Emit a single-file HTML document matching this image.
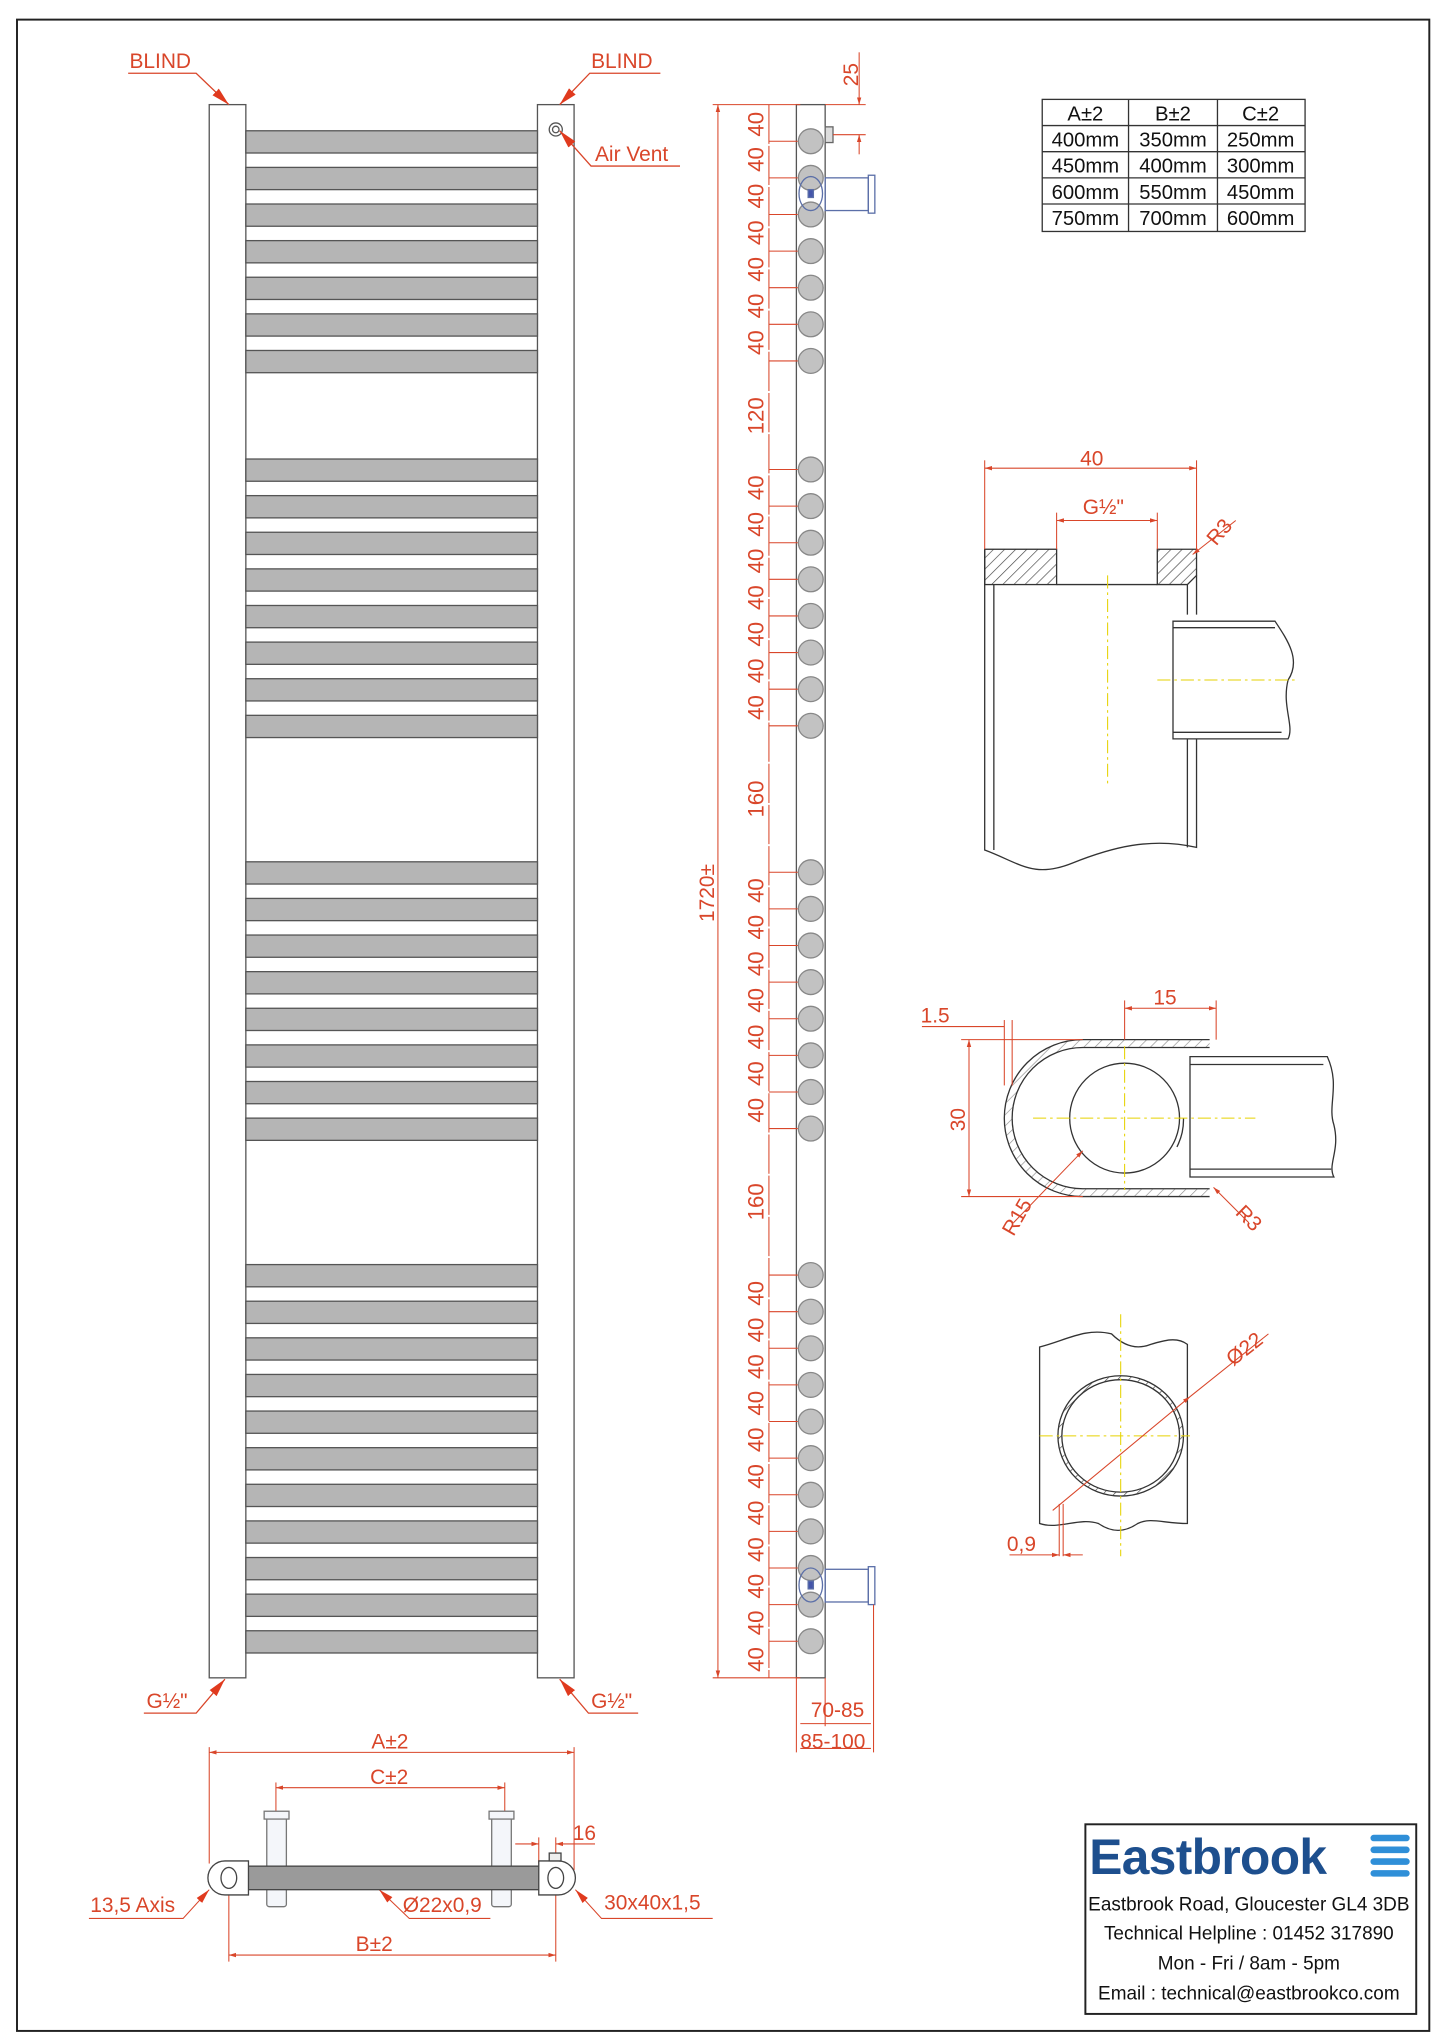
<!DOCTYPE html>
<html><head><meta charset="utf-8"><style>html,body{margin:0;padding:0;background:#fff}svg{display:block}</style></head><body>
<svg width="1445" height="2044" viewBox="0 0 1105 1563" preserveAspectRatio="none" xmlns="http://www.w3.org/2000/svg" font-family="Liberation Sans, sans-serif">
<rect width="1105" height="1563" fill="#fff"/>
<rect x="13" y="15" width="1080" height="1538" fill="none" stroke="#222" stroke-width="1.5"/>
<defs>
<marker id="a" viewBox="0 0 10 10" refX="10" refY="5" markerWidth="7" markerHeight="7" orient="auto-start-reverse"><path d="M0,2L10,5L0,8z" fill="#d9462a"/></marker>
<marker id="b" viewBox="0 0 10 10" refX="10" refY="5" markerWidth="14" markerHeight="14" orient="auto"><path d="M0,2.5L10,5L0,7.5z" fill="#e03a1e"/></marker>
<pattern id="h" width="6" height="6" patternUnits="userSpaceOnUse" patternTransform="rotate(45)"><line x1="0" y1="0" x2="0" y2="6" stroke="#444" stroke-width="1"/></pattern>
</defs>

<!-- Front view -->
<g stroke="#555" stroke-width="1" fill="#fff">
<rect x="160" y="80" width="28" height="1203"/>
<rect x="411" y="80" width="28" height="1203"/>
</g>
<g fill="#b5b5b5" stroke="#555" stroke-width="1">
<rect x="188" y="100" width="223" height="17"/><rect x="188" y="128" width="223" height="17"/><rect x="188" y="156" width="223" height="17"/><rect x="188" y="184" width="223" height="17"/><rect x="188" y="212" width="223" height="17"/><rect x="188" y="240" width="223" height="17"/><rect x="188" y="268" width="223" height="17"/>
<rect x="188" y="351" width="223" height="17"/><rect x="188" y="379" width="223" height="17"/><rect x="188" y="407" width="223" height="17"/><rect x="188" y="435" width="223" height="17"/><rect x="188" y="463" width="223" height="17"/><rect x="188" y="491" width="223" height="17"/><rect x="188" y="519" width="223" height="17"/><rect x="188" y="547" width="223" height="17"/>
<rect x="188" y="659" width="223" height="17"/><rect x="188" y="687" width="223" height="17"/><rect x="188" y="715" width="223" height="17"/><rect x="188" y="743" width="223" height="17"/><rect x="188" y="771" width="223" height="17"/><rect x="188" y="799" width="223" height="17"/><rect x="188" y="827" width="223" height="17"/><rect x="188" y="855" width="223" height="17"/>
<rect x="188" y="967" width="223" height="17"/><rect x="188" y="995" width="223" height="17"/><rect x="188" y="1023" width="223" height="17"/><rect x="188" y="1051" width="223" height="17"/><rect x="188" y="1079" width="223" height="17"/><rect x="188" y="1107" width="223" height="17"/><rect x="188" y="1135" width="223" height="17"/><rect x="188" y="1163" width="223" height="17"/><rect x="188" y="1191" width="223" height="17"/><rect x="188" y="1219" width="223" height="17"/><rect x="188" y="1247" width="223" height="17"/>
</g>
<circle cx="425" cy="99" r="5" fill="none" stroke="#555"/><circle cx="425" cy="99" r="2.5" fill="none" stroke="#555"/>

<!-- labels front -->
<g fill="#d9462a" font-size="16">
<text x="99" y="52">BLIND</text><text x="452" y="52">BLIND</text>
<text x="455" y="123">Air Vent</text>
<text x="112" y="1306">G½"</text><text x="452" y="1306">G½"</text>
</g>
<g stroke="#d9462a" stroke-width="1" fill="none">
<polyline points="98,56 150,56 175,80" marker-end="url(#b)"/>
<polyline points="505,56 451,56 428,80" marker-end="url(#b)"/>
<polyline points="520,127 452,127 428,100" marker-end="url(#b)"/>
<polyline points="110,1310 150,1310 172,1284" marker-end="url(#b)"/>
<polyline points="488,1310 450,1310 428,1284" marker-end="url(#b)"/>
</g>

<!-- Side view -->
<rect x="609" y="80" width="22" height="1203" fill="#fff" stroke="#555"/>
<g fill="#c2c2c2" stroke="#888">
<circle cx="620" cy="108" r="9.5"/><circle cx="620" cy="136" r="9.5"/><circle cx="620" cy="164" r="9.5"/><circle cx="620" cy="192" r="9.5"/><circle cx="620" cy="220" r="9.5"/><circle cx="620" cy="248" r="9.5"/><circle cx="620" cy="276" r="9.5"/>
<circle cx="620" cy="359" r="9.5"/><circle cx="620" cy="387" r="9.5"/><circle cx="620" cy="415" r="9.5"/><circle cx="620" cy="443" r="9.5"/><circle cx="620" cy="471" r="9.5"/><circle cx="620" cy="499" r="9.5"/><circle cx="620" cy="527" r="9.5"/><circle cx="620" cy="555" r="9.5"/>
<circle cx="620" cy="667" r="9.5"/><circle cx="620" cy="695" r="9.5"/><circle cx="620" cy="723" r="9.5"/><circle cx="620" cy="751" r="9.5"/><circle cx="620" cy="779" r="9.5"/><circle cx="620" cy="807" r="9.5"/><circle cx="620" cy="835" r="9.5"/><circle cx="620" cy="863" r="9.5"/>
<circle cx="620" cy="975" r="9.5"/><circle cx="620" cy="1003" r="9.5"/><circle cx="620" cy="1031" r="9.5"/><circle cx="620" cy="1059" r="9.5"/><circle cx="620" cy="1087" r="9.5"/><circle cx="620" cy="1115" r="9.5"/><circle cx="620" cy="1143" r="9.5"/><circle cx="620" cy="1171" r="9.5"/><circle cx="620" cy="1199" r="9.5"/><circle cx="620" cy="1227" r="9.5"/><circle cx="620" cy="1255" r="9.5"/>
</g>
<g fill="none" stroke="#5b6fa8" stroke-width="1">
<rect x="631" y="136" width="33" height="25"/><rect x="664" y="134" width="5" height="29"/><ellipse cx="620" cy="148" rx="9" ry="13"/><rect x="618" y="145" width="4" height="6" fill="#4455aa"/>
<rect x="631" y="1200" width="33" height="25"/><rect x="664" y="1198" width="5" height="29"/><ellipse cx="620" cy="1212" rx="9" ry="13"/><rect x="618" y="1209" width="4" height="6" fill="#4455aa"/>
</g>
<rect x="631" y="97" width="6" height="12" fill="#ddd" stroke="#666"/>

<!-- Side dims -->
<g stroke="#d9462a" stroke-width="0.8" fill="none">
<line x1="549" y1="80" x2="549" y2="1283" marker-start="url(#a)" marker-end="url(#a)"/>
<line x1="545" y1="80" x2="612" y2="80"/><line x1="545" y1="1283" x2="612" y2="1283"/>
<line x1="588" y1="80" x2="588" y2="1283" stroke-dasharray="30 1.5"/>
<path d="M588 108H610M588 136H610M588 164H610M588 192H610M588 220H610M588 248H610M588 276H610M588 359H610M588 387H610M588 415H610M588 443H610M588 471H610M588 499H610M588 527H610M588 555H610M588 667H610M588 695H610M588 723H610M588 751H610M588 779H610M588 807H610M588 835H610M588 863H610M588 975H610M588 1003H610M588 1031H610M588 1059H610M588 1087H610M588 1115H610M588 1143H610M588 1171H610M588 1199H610M588 1227H610M588 1255H610"/>
<line x1="631" y1="80" x2="662" y2="80"/><line x1="637" y1="103" x2="662" y2="103"/>
<line x1="657" y1="40" x2="657" y2="80" marker-end="url(#a)"/><line x1="657" y1="118" x2="657" y2="103" marker-end="url(#a)"/>
<line x1="609" y1="1283" x2="609" y2="1340"/><line x1="668" y1="1227" x2="668" y2="1340"/><line x1="631" y1="1283" x2="631" y2="1320"/>
<line x1="612" y1="1318" x2="666" y2="1318"/><line x1="612" y1="1337" x2="666" y2="1337"/>
</g>
<g fill="#d9462a" font-size="16">
<text transform="translate(546,705) rotate(-90)">1720±</text>
<text transform="translate(656,66) rotate(-90)">25</text>
<text x="620" y="1313">70-85</text><text x="612" y="1337">85-100</text>
</g>
<g fill="#d9462a" font-size="17" text-anchor="middle">
<text transform="translate(584,95) rotate(-90)">40</text><text transform="translate(584,122) rotate(-90)">40</text><text transform="translate(584,150) rotate(-90)">40</text><text transform="translate(584,178) rotate(-90)">40</text><text transform="translate(584,206) rotate(-90)">40</text><text transform="translate(584,234) rotate(-90)">40</text><text transform="translate(584,262) rotate(-90)">40</text>
<text transform="translate(584,318) rotate(-90)">120</text>
<text transform="translate(584,373) rotate(-90)">40</text><text transform="translate(584,401) rotate(-90)">40</text><text transform="translate(584,429) rotate(-90)">40</text><text transform="translate(584,457) rotate(-90)">40</text><text transform="translate(584,485) rotate(-90)">40</text><text transform="translate(584,513) rotate(-90)">40</text><text transform="translate(584,541) rotate(-90)">40</text>
<text transform="translate(584,611) rotate(-90)">160</text>
<text transform="translate(584,681) rotate(-90)">40</text><text transform="translate(584,709) rotate(-90)">40</text><text transform="translate(584,737) rotate(-90)">40</text><text transform="translate(584,765) rotate(-90)">40</text><text transform="translate(584,793) rotate(-90)">40</text><text transform="translate(584,821) rotate(-90)">40</text><text transform="translate(584,849) rotate(-90)">40</text>
<text transform="translate(584,919) rotate(-90)">160</text>
<text transform="translate(584,989) rotate(-90)">40</text><text transform="translate(584,1017) rotate(-90)">40</text><text transform="translate(584,1045) rotate(-90)">40</text><text transform="translate(584,1073) rotate(-90)">40</text><text transform="translate(584,1101) rotate(-90)">40</text><text transform="translate(584,1129) rotate(-90)">40</text><text transform="translate(584,1157) rotate(-90)">40</text><text transform="translate(584,1185) rotate(-90)">40</text><text transform="translate(584,1213) rotate(-90)">40</text><text transform="translate(584,1241) rotate(-90)">40</text><text transform="translate(584,1269) rotate(-90)">40</text>
</g>

<!-- Table -->
<g stroke="#333" stroke-width="1" fill="none">
<rect x="797" y="76" width="201" height="101"/>
<line x1="863" y1="76" x2="863" y2="177"/><line x1="931" y1="76" x2="931" y2="177"/>
<line x1="797" y1="96" x2="998" y2="96"/><line x1="797" y1="116" x2="998" y2="116"/><line x1="797" y1="136" x2="998" y2="136"/><line x1="797" y1="156" x2="998" y2="156"/>
</g>
<g font-size="15.5" fill="#111" text-anchor="middle">
<text x="830" y="92">A±2</text><text x="897" y="92">B±2</text><text x="964" y="92">C±2</text>
<text x="830" y="112">400mm</text><text x="897" y="112">350mm</text><text x="964" y="112">250mm</text>
<text x="830" y="132">450mm</text><text x="897" y="132">400mm</text><text x="964" y="132">300mm</text>
<text x="830" y="152">600mm</text><text x="897" y="152">550mm</text><text x="964" y="152">450mm</text>
<text x="830" y="172">750mm</text><text x="897" y="172">700mm</text><text x="964" y="172">600mm</text>
</g>

<!-- Detail 1 -->
<g stroke="#333" stroke-width="1" fill="none">
<path d="M753 420V650C780 660 790 672 820 660C850 648 880 640 915 648V565"/>
<line x1="760" y1="447" x2="760" y2="650"/><line x1="908" y1="565" x2="908" y2="648"/>
<rect x="753" y="420" width="55" height="27" fill="url(#h)"/>
<path d="M885 420H915V440L908 447H885Z" fill="url(#h)"/>
<line x1="808" y1="447" x2="885" y2="447"/>
<path d="M908 447V470M915 440V470"/>
<path d="M897 475H975C985 490 995 505 985 520C980 540 990 555 985 565H897Z"/>
<line x1="897" y1="480" x2="975" y2="480"/><line x1="897" y1="560" x2="980" y2="560"/>
</g>
<g stroke="#e6d200" stroke-width="0.8" stroke-dasharray="10 3 2 3">
<line x1="847" y1="440" x2="847" y2="600"/><line x1="885" y1="520" x2="990" y2="520"/>
</g>
<g stroke="#d9462a" stroke-width="0.8" fill="none">
<line x1="753" y1="352" x2="753" y2="420"/><line x1="915" y1="352" x2="915" y2="420"/>
<line x1="753" y1="358" x2="915" y2="358" marker-start="url(#a)" marker-end="url(#a)"/>
<line x1="808" y1="392" x2="808" y2="420"/><line x1="885" y1="392" x2="885" y2="420"/>
<line x1="808" y1="398" x2="885" y2="398" marker-start="url(#a)" marker-end="url(#a)"/>
<line x1="945" y1="398" x2="912" y2="424" marker-end="url(#a)"/>
</g>
<g fill="#d9462a" font-size="16"><text x="826" y="356">40</text><text x="828" y="393">G½"</text><text transform="translate(930,418) rotate(-50)">R3</text></g>

<!-- Detail 2 -->
<g stroke="#333" stroke-width="1" fill="none">
<path d="M925 795H828A60 60 0 0 0 828 915H925"/>
<path d="M925 801H828A54 54 0 0 0 828 909H925" />
<circle cx="860" cy="855" r="42"/><path d="M905 855a45 45 0 0 1 -5 22"/>
<path d="M910 808H1015C1025 830 1015 845 1020 860C1025 880 1015 890 1020 900H910Z"/>
<line x1="910" y1="814" x2="1012" y2="814"/><line x1="910" y1="894" x2="1018" y2="894"/>
</g>
<path d="M925 795H828A60 60 0 0 0 828 915H925V909H828A54 54 0 0 1 828 801H925Z" fill="url(#h)" opacity="0.6"/>
<g stroke="#e6d200" stroke-width="0.8" stroke-dasharray="10 3 2 3">
<line x1="860" y1="800" x2="860" y2="910"/><line x1="790" y1="855" x2="960" y2="855"/>
</g>
<g stroke="#d9462a" stroke-width="0.8" fill="none">
<line x1="860" y1="765" x2="860" y2="795"/><line x1="930" y1="765" x2="930" y2="795"/>
<line x1="860" y1="771" x2="930" y2="771" marker-start="url(#a)" marker-end="url(#a)"/>
<line x1="705" y1="785" x2="768" y2="785"/><line x1="768" y1="780" x2="768" y2="830"/><line x1="774" y1="780" x2="774" y2="830"/>
<line x1="735" y1="795" x2="828" y2="795"/><line x1="735" y1="915" x2="828" y2="915"/>
<line x1="741" y1="795" x2="741" y2="915" marker-start="url(#a)" marker-end="url(#a)"/>
<line x1="775" y1="935" x2="828" y2="880" marker-end="url(#a)"/>
<line x1="955" y1="935" x2="928" y2="908" marker-end="url(#a)"/>
</g>
<g fill="#d9462a" font-size="16"><text x="882" y="768">15</text><text x="704" y="782">1.5</text><text transform="translate(738,865) rotate(-90)">30</text><text transform="translate(775,946) rotate(-60)">R15</text><text transform="translate(944,928) rotate(45)">R3</text></g>

<!-- Detail 3 -->
<g stroke="#333" stroke-width="1" fill="none">
<path d="M795 1030C815 1025 830 1015 850 1020C860 1030 870 1032 880 1028C890 1025 900 1022 908 1028V1165C890 1165 880 1160 870 1165C860 1172 850 1172 840 1165C825 1160 810 1170 795 1165Z"/>
<ellipse cx="857" cy="1098" rx="48" ry="46"/><ellipse cx="857" cy="1098" rx="45" ry="43"/>
</g>
<ellipse cx="857" cy="1098" rx="46.5" ry="44.5" fill="none" stroke="url(#h)" stroke-width="3"/>
<g stroke="#e6d200" stroke-width="0.8" stroke-dasharray="10 3 2 3">
<line x1="857" y1="1005" x2="857" y2="1190"/><line x1="795" y1="1098" x2="910" y2="1098"/>
</g>
<g stroke="#d9462a" stroke-width="0.8" fill="none">
<line x1="805" y1="1155" x2="910" y2="1068" marker-end="url(#a)"/>
<line x1="910" y1="1068" x2="970" y2="1020"/>
<line x1="810" y1="1150" x2="810" y2="1190"/><line x1="813" y1="1150" x2="813" y2="1190"/>
<line x1="772" y1="1189" x2="810" y2="1189" marker-end="url(#a)"/><line x1="828" y1="1189" x2="813" y2="1189" marker-end="url(#a)"/>
</g>
<g fill="#d9462a" font-size="16"><text transform="translate(943,1045) rotate(-38)">Ø22</text><text x="770" y="1186">0,9</text></g>

<!-- Bottom view -->
<g stroke="#d9462a" stroke-width="0.8" fill="none">
<line x1="160" y1="1336" x2="160" y2="1425"/><line x1="439" y1="1336" x2="439" y2="1430"/>
<line x1="160" y1="1340" x2="439" y2="1340" marker-start="url(#a)" marker-end="url(#a)"/>
<line x1="211" y1="1363" x2="211" y2="1385"/><line x1="386" y1="1363" x2="386" y2="1385"/>
<line x1="211" y1="1367" x2="386" y2="1367" marker-start="url(#a)" marker-end="url(#a)"/>
<line x1="394" y1="1410" x2="412" y2="1410" marker-end="url(#a)"/><line x1="455" y1="1410" x2="425" y2="1410" marker-end="url(#a)"/>
<line x1="412" y1="1405" x2="412" y2="1425"/><line x1="425" y1="1405" x2="425" y2="1425"/>
<line x1="175" y1="1440" x2="175" y2="1500"/><line x1="425" y1="1440" x2="425" y2="1500"/>
<line x1="175" y1="1495" x2="425" y2="1495" marker-start="url(#a)" marker-end="url(#a)"/>
<polyline points="68,1467 140,1467 160,1445" marker-end="url(#b)"/>
<polyline points="375,1467 313,1467 290,1445" marker-end="url(#b)"/>
<polyline points="545,1467 460,1467 440,1445" marker-end="url(#b)"/>
</g>
<g stroke="#777" stroke-width="1">
<rect x="204" y="1388" width="15" height="70" fill="#f4f6fa" rx="2"/><rect x="202" y="1385" width="19" height="6" fill="#f4f6fa"/>
<rect x="376" y="1388" width="15" height="70" fill="#f4f6fa" rx="2"/><rect x="374" y="1385" width="19" height="6" fill="#f4f6fa"/>
<rect x="188" y="1427" width="226" height="18" fill="#9a9a9a" stroke="#444"/>
<path d="M172 1423H190V1449H172A13 13 0 0 1 172 1423Z" fill="#fff" stroke="#444"/>
<path d="M412 1423H427A13 13 0 0 1 427 1449H412Z" fill="#fff" stroke="#444"/>
<ellipse cx="175" cy="1436" rx="6" ry="8" fill="none" stroke="#444"/>
<ellipse cx="425" cy="1436" rx="6" ry="8" fill="none" stroke="#444"/>
<rect x="420" y="1417" width="9" height="6" fill="#eee" stroke="#444"/>
</g>
<g fill="#d9462a" font-size="16">
<text x="284" y="1337">A±2</text><text x="283" y="1364">C±2</text><text x="438" y="1407">16</text>
<text x="69" y="1462">13,5 Axis</text><text x="308" y="1462">Ø22x0,9</text><text x="462" y="1460">30x40x1,5</text>
<text x="272" y="1492">B±2</text>
</g>

<!-- Logo box -->
<rect x="830" y="1395" width="253" height="145" fill="#fff" stroke="#222" stroke-width="1.5"/>
<text x="833" y="1433" font-size="38" font-weight="bold" fill="#1d4f8e" letter-spacing="-0.5">Eastbrook</text>
<g fill="#2f8fd8"><rect x="1048" y="1403" width="30" height="5" rx="2.5"/><rect x="1048" y="1412" width="30" height="5" rx="2.5"/><rect x="1048" y="1421" width="30" height="5" rx="2.5"/><rect x="1048" y="1430" width="30" height="5" rx="2.5"/></g>
<g font-size="14.5" fill="#111" text-anchor="middle">
<text x="955" y="1461">Eastbrook Road, Gloucester GL4 3DB</text>
<text x="955" y="1483">Technical Helpline : 01452 317890</text>
<text x="955" y="1506">Mon - Fri / 8am - 5pm</text>
<text x="955" y="1529">Email : technical@eastbrookco.com</text>
</g>
</svg>
</body></html>
